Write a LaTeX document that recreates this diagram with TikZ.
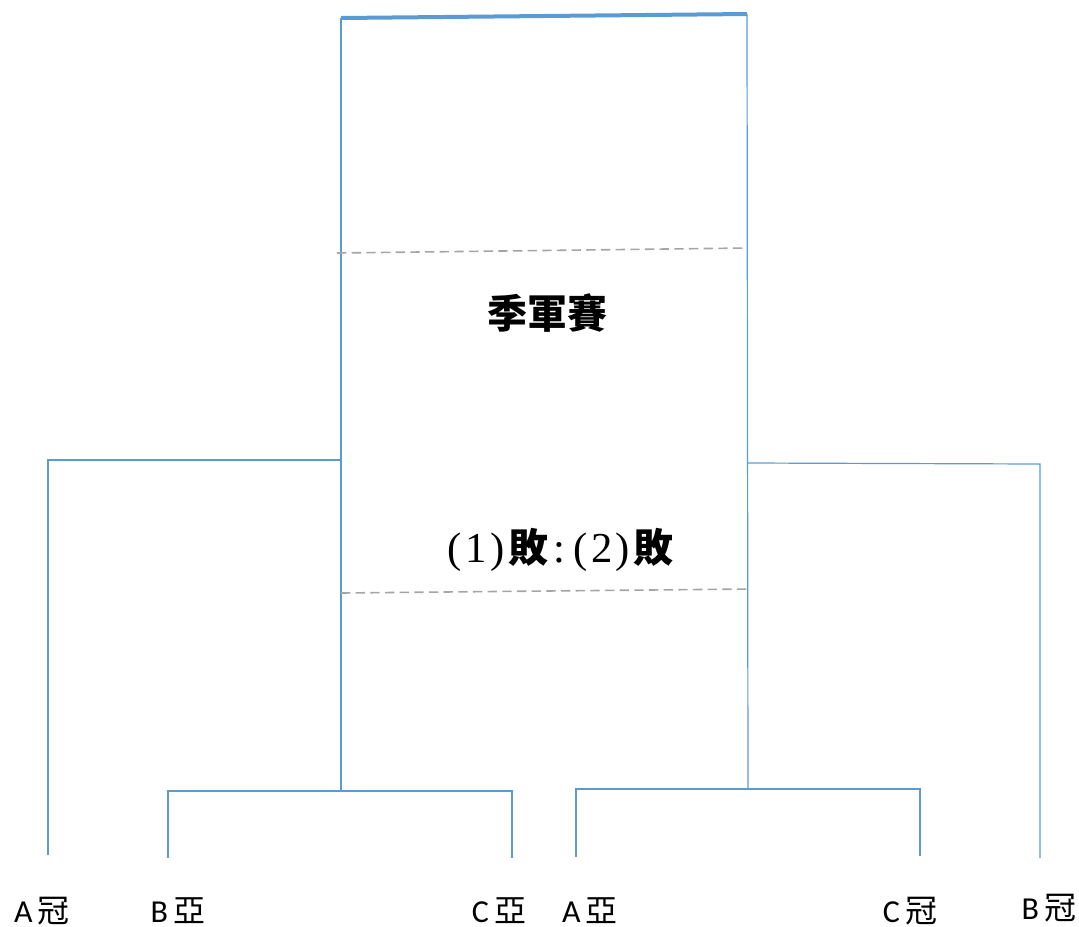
\documentclass[tikz,border=0pt]{standalone}
\usepackage{fontspec}
\setmainfont{Carlito}
\newfontfamily\cjk{Noto Sans CJK TC}
\newfontfamily\serifnum{Liberation Serif}
\definecolor{lineblue}{HTML}{5B9BD5}
\definecolor{dashgray}{HTML}{A5A5A5}
\newcommand{\hw}[1]{\makebox[16pt]{\fontsize{32}{34}\selectfont\serifnum #1}}
\begin{document}
\begin{tikzpicture}[x=0.75pt,y=-0.75pt,
  wire/.style={draw=lineblue,line width=0.9pt},
  topline/.style={draw=lineblue,line width=3pt},
  dashline/.style={draw=dashgray,line width=1.2pt,dash pattern=on 7pt off 4pt},
  lbl/.style={font=\fontsize{24}{26}\selectfont,inner sep=0pt},
  title/.style={font=\fontsize{30}{32}\selectfont,inner sep=0pt}]
\useasboundingbox (0,0) rectangle (1079,926);
% coordinates
\coordinate (TL) at (341,18);
\coordinate (TR) at (747,14);
\coordinate (CLb) at (341,791);
\coordinate (CRb) at (748,789);
\coordinate (LJ) at (341,460);
\coordinate (LC) at (48,460);
\coordinate (LE) at (48,855);
\coordinate (RJ) at (748,463);
\coordinate (RC) at (1040,464);
\coordinate (RE) at (1040,858);
\coordinate (B1a) at (168,858);
\coordinate (B1b) at (168,791);
\coordinate (B1c) at (512,791);
\coordinate (B1d) at (512,858);
\coordinate (B2a) at (576,857);
\coordinate (B2b) at (576,789);
\coordinate (B2c) at (920,789);
\coordinate (B2d) at (920,856);
\coordinate (D1a) at (337,253);
\coordinate (D1b) at (748,248);
\coordinate (D2a) at (341,593);
\coordinate (D2b) at (751,589);
% lines
\draw[wire] (TL) -- (CLb);
\draw[wire] (TR) -- (CRb);
\draw[topline] (TL) -- (TR);
\draw[wire] (LJ) -- (LC) -- (LE);
\draw[wire] (RJ) -- (RC) -- (RE);
\draw[wire] (B1a) -- (B1b) -- (B1c) -- (B1d);
\draw[wire] (B2a) -- (B2b) -- (B2c) -- (B2d);
\draw[dashline] (D1a) -- (D1b);
\draw[dashline] (D2a) -- (D2b);
% texts
\node[title] (t1) at (547,313) {\cjk\bfseries 季軍賽};
\node[title] (t2) at (559,550) {\hw{(}\hw{1}\hw{)}{\cjk\bfseries 敗}\hw{:}\hw{(}\hw{2}\hw{)}{\cjk\bfseries 敗}};
\node[lbl] (l1) at (42,911) {A\hspace{4pt}{\cjk 冠}};
\node[lbl] (l2) at (178,911) {B\hspace{4pt}{\cjk 亞}};
\node[lbl] (l3) at (499,911) {C\hspace{4pt}{\cjk 亞}};
\node[lbl] (l4) at (590,911) {A\hspace{4pt}{\cjk 亞}};
\node[lbl] (l5) at (910,911) {C\hspace{4pt}{\cjk 冠}};
\node[lbl] (l6) at (1049,908) {B\hspace{4pt}{\cjk 冠}};
\end{tikzpicture}
\end{document}
